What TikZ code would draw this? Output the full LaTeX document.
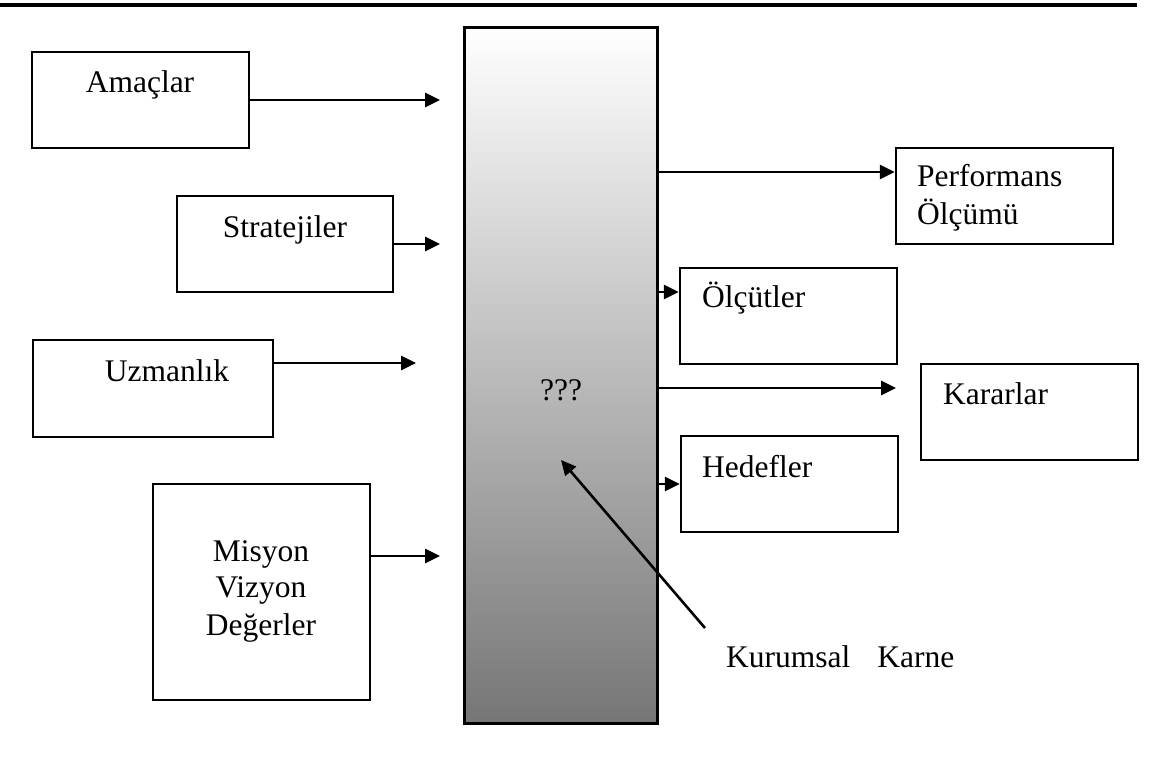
\documentclass[tikz,border=0pt]{standalone}
\usepackage{fontspec}
\setmainfont{Liberation Serif}
\usetikzlibrary{arrows.meta}
\definecolor{shadebottom}{RGB}{118,118,118}
\begin{document}
\begin{tikzpicture}[x=1pt,y=-1pt,
  box/.style={draw, line width=2.5pt, minimum width=217pt, minimum height=96pt, inner sep=0pt, fill=white},
  txt/.style={inner sep=0pt, font=\fontsize{31.5}{37}\selectfont},
  arr/.style={line width=2.6pt, -{Triangle[length=15pt,width=14pt]}},
  rule/.style={line width=3.5pt}]
\useasboundingbox (0,0) rectangle (1149,771);
% top rule
\coordinate (r0) at (0,5);
\coordinate (r1) at (1137,5);
\draw[rule] (r0) -- (r1);
% central box
\node[draw, line width=3pt, minimum width=193pt, minimum height=696pt, inner sep=0pt,
      top color=white, bottom color=shadebottom] (kk) at (560.5,375) {};
% left boxes
\node[box] (amac) at (140.5,100) {};
\node[box, minimum width=216pt] (strat) at (285,244) {};
\node[box, minimum width=240pt, minimum height=97pt] (uzm) at (153,388.5) {};
\node[box, minimum height=216pt] (mis) at (261.5,592) {};
% right boxes
\node[box] (perf) at (1004.5,196) {};
\node[box] (olc) at (788.5,316) {};
\node[box] (kar) at (1029.5,412) {};
\node[box] (hed) at (789.5,484) {};
% texts
\node[txt, anchor=base] (tamac) at (140,92) {Amaçlar};
\node[txt, anchor=base] (tstrat) at (285,237) {Stratejiler};
\node[txt, anchor=base] (tuzm) at (167,381) {Uzmanlık};
\node[txt, anchor=base] (tmis1) at (261,561) {Misyon};
\node[txt, anchor=base] (tmis2) at (261,597) {Vizyon};
\node[txt, anchor=base] (tmis3) at (261,635) {Değerler};
\node[txt, anchor=base] (tq) at (561,400) {???};
\node[txt, anchor=base west] (tperf1) at (917,186) {Performans};
\node[txt, anchor=base west] (tperf2) at (917,224) {Ölçümü};
\node[txt, anchor=base west] (tolc) at (702,307) {Ölçütler};
\node[txt, anchor=base west] (tkar) at (943,404) {Kararlar};
\node[txt, anchor=base west] (thed) at (702,477) {Hedefler};
\node[txt, anchor=base west] (tkur) at (726,667) {Kurumsal\hspace{27pt}Karne};
% free ends
\coordinate (ea) at (440,100);
\coordinate (es) at (440,244);
\coordinate (eu) at (416,363);
\coordinate (em) at (440,556);
\coordinate (yp) at (0,172);
\coordinate (yo) at (0,292);
\coordinate (ek) at (896,388);
\coordinate (yh) at (0,484);
\coordinate (dtail) at (705,628);
\coordinate (dtip) at (561,460);
% left arrows
\draw[arr] (amac.east) -- (ea);
\draw[arr] (strat.east) -- (es);
\draw[arr] (uzm.east |- eu) -- (eu);
\draw[arr] (mis.east |- em) -- (em);
% right arrows
\draw[arr] (kk.east |- yp) -- (perf.west |- yp);
\draw[arr] (kk.east |- yo) -- (olc.west |- yo);
\draw[arr] (kk.east |- ek) -- (ek);
\draw[arr] (kk.east |- yh) -- (hed.west |- yh);
% diagonal
\draw[arr] (dtail) -- (dtip);
\end{tikzpicture}
\end{document}
